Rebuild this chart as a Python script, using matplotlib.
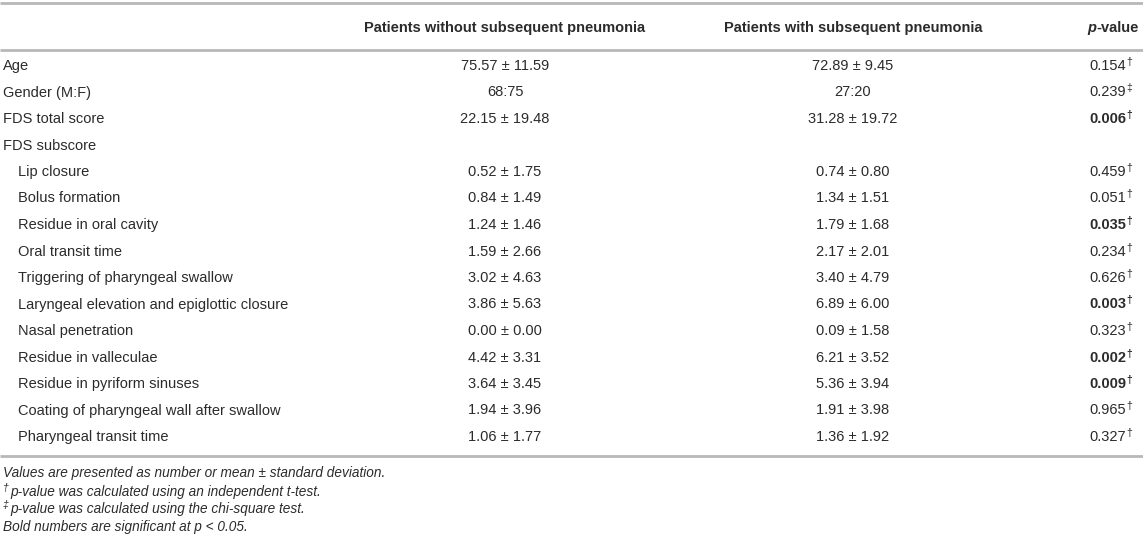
import matplotlib.pyplot as plt

plt.rcParams['font.family'] = ['Liberation Sans', 'DejaVu Sans']

TXT = '#2b2b2b'
RULE = '#b8b8b8'

headers = ["Patients without subsequent pneumonia",
           "Patients with subsequent pneumonia",
           "p-value"]

row_labels = ["Age", "Gender (M:F)", "FDS total score", "FDS subscore",
              "Lip closure", "Bolus formation", "Residue in oral cavity",
              "Oral transit time", "Triggering of pharyngeal swallow",
              "Laryngeal elevation and epiglottic closure", "Nasal penetration",
              "Residue in valleculae", "Residue in pyriform sinuses",
              "Coating of pharyngeal wall after swallow", "Pharyngeal transit time"]
indented = [False, False, False, False] + [True] * 11

without_pn = ["75.57 ± 11.59", "68:75", "22.15 ± 19.48", "",
              "0.52 ± 1.75", "0.84 ± 1.49", "1.24 ± 1.46", "1.59 ± 2.66",
              "3.02 ± 4.63", "3.86 ± 5.63", "0.00 ± 0.00", "4.42 ± 3.31",
              "3.64 ± 3.45", "1.94 ± 3.96", "1.06 ± 1.77"]
with_pn = ["72.89 ± 9.45", "27:20", "31.28 ± 19.72", "",
           "0.74 ± 0.80", "1.34 ± 1.51", "1.79 ± 1.68", "2.17 ± 2.01",
           "3.40 ± 4.79", "6.89 ± 6.00", "0.09 ± 1.58", "6.21 ± 3.52",
           "5.36 ± 3.94", "1.91 ± 3.98", "1.36 ± 1.92"]
p_values = ["0.154", "0.239", "0.006", "",
            "0.459", "0.051", "0.035", "0.234", "0.626", "0.003",
            "0.323", "0.002", "0.009", "0.965", "0.327"]
p_marks = ["†", "‡", "†", "", "†", "†", "†", "†", "†", "†",
           "†", "†", "†", "†", "†"]
significant = [False, False, True, False, False, False, True, False,
               False, True, False, True, True, False, False]

fig = plt.figure(figsize=(11.43, 5.45), dpi=100)
ax = fig.add_axes([0, 0, 1, 1])
ax.set_xlim(0, 1143)
ax.set_ylim(545, 0)
ax.axis('off')

fs = 10.5
col1_x, col2_x, p_x = 505, 853, 1126

# rules
for y in (3, 50, 456):
    ax.plot([0, 1143], [y, y], color=RULE, lw=2, solid_capstyle='butt')

# header
ax.text(col1_x, 28, headers[0], ha='center', va='center', fontsize=fs,
        fontweight='bold', color=TXT)
ax.text(col2_x, 28, headers[1], ha='center', va='center', fontsize=fs,
        fontweight='bold', color=TXT)
t_val = ax.text(1139, 28, headers[2][1:], ha='right', va='center', fontsize=fs,
                fontweight='bold', color=TXT)
fig.canvas.draw()
bb = t_val.get_window_extent()
left = ax.transData.inverted().transform((bb.x0, bb.y0))[0]
ax.text(left, 28, headers[2][0], ha='right', va='center', fontsize=fs,
        fontweight='bold', fontstyle='italic', color=TXT)

y0, dy = 66, 26.5
for i, lab in enumerate(row_labels):
    y = y0 + i * dy
    x = 18 if indented[i] else 3
    ax.text(x, y, lab, ha='left', va='center', fontsize=fs, color=TXT)
    ax.text(col1_x, y, without_pn[i], ha='center', va='center', fontsize=fs, color=TXT)
    ax.text(col2_x, y, with_pn[i], ha='center', va='center', fontsize=fs, color=TXT)
    if p_values[i]:
        w = 'bold' if significant[i] else 'normal'
        ax.text(p_x, y, p_values[i], ha='right', va='center', fontsize=fs,
                fontweight=w, color=TXT)
        ax.text(p_x + 0.5, y - 4, p_marks[i], ha='left', va='center', fontsize=7.5,
                fontweight=w, color=TXT)

# footnotes
fn = 9.8
ax.text(3, 473, "Values are presented as number or mean ± standard deviation.",
        ha='left', va='center', fontsize=fn, fontstyle='italic', color=TXT)
ax.text(3, 488, "†", ha='left', va='center', fontsize=7.5, fontstyle='italic', color=TXT)
ax.text(10, 492, "p-value was calculated using an independent t-test.",
        ha='left', va='center', fontsize=fn, fontstyle='italic', color=TXT)
ax.text(3, 505, "‡", ha='left', va='center', fontsize=7.5, fontstyle='italic', color=TXT)
ax.text(10, 509, "p-value was calculated using the chi-square test.",
        ha='left', va='center', fontsize=fn, fontstyle='italic', color=TXT)
ax.text(3, 527, "Bold numbers are significant at p < 0.05.",
        ha='left', va='center', fontsize=fn, fontstyle='italic', color=TXT)

fig.savefig('out.png', dpi=100)
